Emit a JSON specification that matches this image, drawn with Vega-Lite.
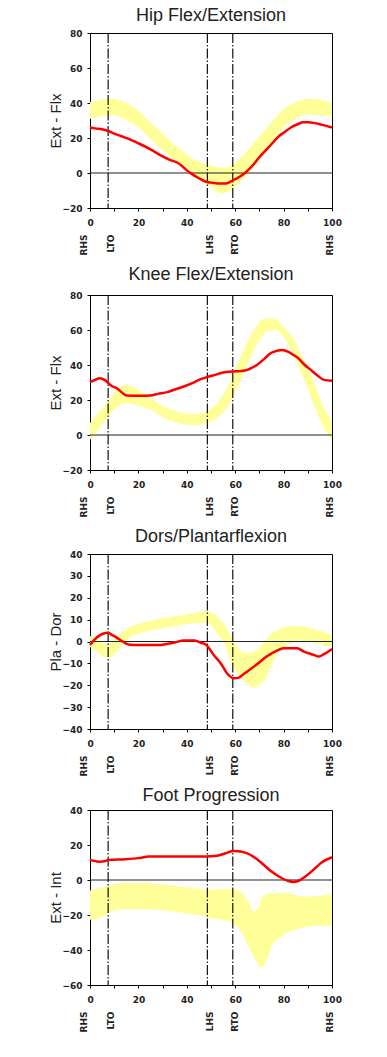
{
  "$schema": "https://vega.github.io/schema/vega-lite/v6.json",
  "background": "white",
  "padding": {"left": 48, "top": 6, "right": 5, "bottom": 5},
  "datasets": {
    "events": [{"pct": 7.5, "event": "LTO"}, {"pct": 48.5, "event": "LHS"}, {"pct": 59, "event": "RTO"}],
    "zero": [{"angle": 0}],
    "hipBand": [
      {"pct": 0, "lo": 31, "hi": 40.5}, {"pct": 5, "lo": 32.5, "hi": 42}, {"pct": 10, "lo": 33, "hi": 42.5},
      {"pct": 15, "lo": 30, "hi": 40}, {"pct": 20, "lo": 26, "hi": 35.5}, {"pct": 25, "lo": 19.5, "hi": 29},
      {"pct": 30, "lo": 13, "hi": 22.5}, {"pct": 35, "lo": 7, "hi": 16}, {"pct": 40, "lo": 1.5, "hi": 10.5},
      {"pct": 45, "lo": -3.5, "hi": 6.5}, {"pct": 50, "lo": -8, "hi": 4.5}, {"pct": 54, "lo": -11.5, "hi": 3},
      {"pct": 58, "lo": -10, "hi": 4}, {"pct": 62, "lo": -5, "hi": 8.5}, {"pct": 66, "lo": 1, "hi": 14.5},
      {"pct": 70, "lo": 8, "hi": 21}, {"pct": 75, "lo": 17.5, "hi": 29}, {"pct": 80, "lo": 26, "hi": 36.5},
      {"pct": 85, "lo": 31, "hi": 40.5}, {"pct": 90, "lo": 33.5, "hi": 42.5}, {"pct": 95, "lo": 33, "hi": 42},
      {"pct": 100, "lo": 32, "hi": 40}
    ],
    "hipLine": [
      {"pct": 0, "angle": 26}, {"pct": 2, "angle": 25.5}, {"pct": 5, "angle": 25}, {"pct": 7.5, "angle": 24},
      {"pct": 10, "angle": 22.5}, {"pct": 13, "angle": 21}, {"pct": 16, "angle": 19.5}, {"pct": 20, "angle": 17},
      {"pct": 25, "angle": 13.5}, {"pct": 30, "angle": 9.5}, {"pct": 33, "angle": 7.5}, {"pct": 36, "angle": 6},
      {"pct": 38, "angle": 4}, {"pct": 40, "angle": 1.5}, {"pct": 42, "angle": -0.5}, {"pct": 45, "angle": -3},
      {"pct": 48, "angle": -5}, {"pct": 50, "angle": -5.5}, {"pct": 53, "angle": -6}, {"pct": 56, "angle": -6},
      {"pct": 58, "angle": -5}, {"pct": 60, "angle": -3.5}, {"pct": 62, "angle": -2}, {"pct": 64, "angle": 0},
      {"pct": 67, "angle": 4}, {"pct": 70, "angle": 9}, {"pct": 73, "angle": 13.5}, {"pct": 76, "angle": 18},
      {"pct": 78, "angle": 21}, {"pct": 80, "angle": 23}, {"pct": 83, "angle": 26}, {"pct": 86, "angle": 28},
      {"pct": 88, "angle": 29}, {"pct": 90, "angle": 29}, {"pct": 93, "angle": 28.5}, {"pct": 96, "angle": 27.5},
      {"pct": 100, "angle": 26}
    ],
    "kneeBand": [
      {"pct": 0, "lo": -2.7, "hi": 6.8}, {"pct": 4, "lo": 4, "hi": 13.5}, {"pct": 7.6, "lo": 10.6, "hi": 19.2},
      {"pct": 11, "lo": 15.7, "hi": 25.8}, {"pct": 15, "lo": 18.2, "hi": 28.7}, {"pct": 19, "lo": 17.3, "hi": 26.8},
      {"pct": 25, "lo": 14.4, "hi": 21}, {"pct": 32, "lo": 8.7, "hi": 15.4}, {"pct": 38.7, "lo": 6.2, "hi": 12.5},
      {"pct": 44, "lo": 5.5, "hi": 11.9}, {"pct": 48, "lo": 6.8, "hi": 13.5}, {"pct": 52.5, "lo": 9.7, "hi": 18.2},
      {"pct": 56.6, "lo": 15.4, "hi": 26.8}, {"pct": 60.8, "lo": 26.8, "hi": 40}, {"pct": 65, "lo": 40, "hi": 53.4},
      {"pct": 69, "lo": 51.5, "hi": 62.9}, {"pct": 73.2, "lo": 59.1, "hi": 66.7}, {"pct": 76.7, "lo": 60, "hi": 66.3},
      {"pct": 80, "lo": 56.2, "hi": 61.9}, {"pct": 84, "lo": 45.8, "hi": 55.3}, {"pct": 88, "lo": 33.4, "hi": 43.9},
      {"pct": 92.5, "lo": 17.3, "hi": 30.6}, {"pct": 96.7, "lo": 4, "hi": 15.4}, {"pct": 100, "lo": -2.7, "hi": 7.8}
    ],
    "kneeLine": [
      {"pct": 0, "angle": 30.2}, {"pct": 2, "angle": 31.5}, {"pct": 4, "angle": 32.5}, {"pct": 6, "angle": 31.5},
      {"pct": 7.6, "angle": 29.6}, {"pct": 9, "angle": 28}, {"pct": 11, "angle": 26.8}, {"pct": 13, "angle": 24.5},
      {"pct": 15, "angle": 22.6}, {"pct": 20, "angle": 22.5}, {"pct": 25, "angle": 22.6}, {"pct": 28, "angle": 23.5},
      {"pct": 32, "angle": 24.5}, {"pct": 35, "angle": 26}, {"pct": 38.7, "angle": 27.7}, {"pct": 42, "angle": 29.5},
      {"pct": 45, "angle": 31.5}, {"pct": 48, "angle": 32.9}, {"pct": 52, "angle": 34.5}, {"pct": 55, "angle": 35.7},
      {"pct": 59.4, "angle": 36.3}, {"pct": 62, "angle": 36.5}, {"pct": 65, "angle": 37.2}, {"pct": 67, "angle": 38.5},
      {"pct": 69, "angle": 40}, {"pct": 72, "angle": 43.5}, {"pct": 74.6, "angle": 46.7}, {"pct": 77, "angle": 48},
      {"pct": 79.4, "angle": 48.6}, {"pct": 82, "angle": 47.5}, {"pct": 84, "angle": 45.8}, {"pct": 86, "angle": 44},
      {"pct": 88, "angle": 41}, {"pct": 91, "angle": 37.5}, {"pct": 94, "angle": 34}, {"pct": 96.7, "angle": 31.5},
      {"pct": 100, "angle": 31}
    ],
    "ankleBand": [
      {"pct": 0, "lo": -2.5, "hi": 2.5}, {"pct": 3, "lo": -5, "hi": 1}, {"pct": 6, "lo": -7, "hi": -1},
      {"pct": 8, "lo": -7.5, "hi": -1}, {"pct": 10, "lo": -6, "hi": 1}, {"pct": 13, "lo": -2, "hi": 4},
      {"pct": 16, "lo": 1.5, "hi": 6.5}, {"pct": 20, "lo": 3.5, "hi": 8}, {"pct": 25, "lo": 5, "hi": 9.5},
      {"pct": 30, "lo": 6, "hi": 10.5}, {"pct": 35, "lo": 7, "hi": 11.5}, {"pct": 40, "lo": 8, "hi": 12.5},
      {"pct": 45, "lo": 8.5, "hi": 13.5}, {"pct": 48, "lo": 8.5, "hi": 14}, {"pct": 50, "lo": 7.5, "hi": 13.5},
      {"pct": 53, "lo": 3, "hi": 11}, {"pct": 56, "lo": -2, "hi": 7}, {"pct": 58, "lo": -9, "hi": 3},
      {"pct": 60, "lo": -13, "hi": -1}, {"pct": 62, "lo": -16, "hi": -4}, {"pct": 65, "lo": -19.5, "hi": -5.5},
      {"pct": 67, "lo": -21, "hi": -5}, {"pct": 69, "lo": -20.5, "hi": -3.5}, {"pct": 71, "lo": -19, "hi": -1.5},
      {"pct": 73, "lo": -16, "hi": 1}, {"pct": 75, "lo": -11, "hi": 3.5}, {"pct": 77, "lo": -6, "hi": 5},
      {"pct": 80, "lo": -2.5, "hi": 6.5}, {"pct": 83, "lo": -0.5, "hi": 7}, {"pct": 86, "lo": 0.5, "hi": 7},
      {"pct": 90, "lo": 0, "hi": 6.5}, {"pct": 93, "lo": -0.5, "hi": 5.5}, {"pct": 96, "lo": -1.5, "hi": 4.5},
      {"pct": 100, "lo": -2.5, "hi": 3}
    ],
    "ankleLine": [
      {"pct": 0, "angle": -1.6}, {"pct": 2, "angle": 1}, {"pct": 4, "angle": 2.8}, {"pct": 6, "angle": 3.8},
      {"pct": 7.6, "angle": 4}, {"pct": 9, "angle": 3}, {"pct": 11, "angle": 1.8}, {"pct": 13, "angle": 0.3},
      {"pct": 14.5, "angle": -0.7}, {"pct": 16.6, "angle": -1.5}, {"pct": 20, "angle": -1.6}, {"pct": 25, "angle": -1.6},
      {"pct": 28, "angle": -1.6}, {"pct": 31, "angle": -1.3}, {"pct": 35, "angle": -0.5}, {"pct": 38.7, "angle": 0.5},
      {"pct": 43, "angle": 0.5}, {"pct": 45.6, "angle": -0.5}, {"pct": 47.7, "angle": -1.3}, {"pct": 49.5, "angle": -3.5},
      {"pct": 51, "angle": -6}, {"pct": 54, "angle": -9.9}, {"pct": 56.6, "angle": -14.5}, {"pct": 59.4, "angle": -16.8},
      {"pct": 61.5, "angle": -16.5}, {"pct": 63, "angle": -15.3}, {"pct": 65, "angle": -13.7}, {"pct": 69, "angle": -10.4},
      {"pct": 73, "angle": -6.9}, {"pct": 77, "angle": -4.3}, {"pct": 80, "angle": -3.1}, {"pct": 85.6, "angle": -3.1},
      {"pct": 88.4, "angle": -4.6}, {"pct": 92.5, "angle": -6.1}, {"pct": 94.6, "angle": -6.9}, {"pct": 96.7, "angle": -5.8},
      {"pct": 100, "angle": -3.4}
    ],
    "footBand": [
      {"pct": 0, "lo": -22.7, "hi": -6}, {"pct": 3.7, "lo": -21.8, "hi": -4.7}, {"pct": 7.8, "lo": -18.9, "hi": -3.3},
      {"pct": 12, "lo": -16.7, "hi": -1.8}, {"pct": 23, "lo": -16.7, "hi": -1.8}, {"pct": 34, "lo": -18, "hi": -3.3},
      {"pct": 43.5, "lo": -19.9, "hi": -4.7}, {"pct": 50.5, "lo": -21.8, "hi": -5.6}, {"pct": 55, "lo": -23, "hi": -5.2},
      {"pct": 58.6, "lo": -24.6, "hi": -5.2}, {"pct": 62.8, "lo": -30.3, "hi": -7.5}, {"pct": 65.5, "lo": -38, "hi": -12.3},
      {"pct": 67.6, "lo": -43.5, "hi": -18}, {"pct": 68.3, "lo": -45.6, "hi": -17.5}, {"pct": 69.6, "lo": -48.5, "hi": -16.1},
      {"pct": 70.3, "lo": -49.7, "hi": -13}, {"pct": 71, "lo": -50, "hi": -10.4}, {"pct": 72.4, "lo": -47.5, "hi": -8.5},
      {"pct": 73.6, "lo": -44, "hi": -7.5}, {"pct": 75, "lo": -38, "hi": -7.5}, {"pct": 79.3, "lo": -32.2, "hi": -7.5},
      {"pct": 80.6, "lo": -31, "hi": -7.5}, {"pct": 84.8, "lo": -28.4, "hi": -8.5}, {"pct": 86, "lo": -28, "hi": -9.4},
      {"pct": 90, "lo": -26.5, "hi": -9.4}, {"pct": 91.6, "lo": -26.4, "hi": -9.4}, {"pct": 100, "lo": -26.2, "hi": -7.9}
    ],
    "footLine": [
      {"pct": 0, "angle": 11.5}, {"pct": 3.7, "angle": 10.5}, {"pct": 6.5, "angle": 10.9}, {"pct": 7.8, "angle": 11.5},
      {"pct": 14.7, "angle": 11.9}, {"pct": 20, "angle": 12.5}, {"pct": 24.3, "angle": 13.4}, {"pct": 32.6, "angle": 13.4},
      {"pct": 40, "angle": 13.4}, {"pct": 47.7, "angle": 13.4}, {"pct": 52.5, "angle": 13.8}, {"pct": 56, "angle": 15.3},
      {"pct": 59.3, "angle": 16.6}, {"pct": 62.8, "angle": 16.2}, {"pct": 65, "angle": 15.2}, {"pct": 67, "angle": 13.8},
      {"pct": 71, "angle": 9.6}, {"pct": 75, "angle": 4.8}, {"pct": 79.3, "angle": 1}, {"pct": 82, "angle": -0.6},
      {"pct": 84, "angle": -1.1}, {"pct": 86, "angle": -0.6}, {"pct": 89, "angle": 2}, {"pct": 93, "angle": 6.7},
      {"pct": 95.7, "angle": 10}, {"pct": 100, "angle": 13}
    ]
  },
  "vconcat": [
    {
      "width": 242, "height": 175,
      "title": {"text": "Hip Flex/Extension", "offset": 4},
      "layer": [
        {"data": {"name": "hipBand"}, "mark": {"type": "area", "color": "#ffff99", "opacity": 1, "interpolate": "monotone"},
         "encoding": {
           "x": {"field": "pct", "type": "quantitative", "scale": {"domain": [0, 100], "nice": false},
                 "axis": {"values": [0, 10, 20, 30, 40, 50, 60, 70, 80, 90, 100], "labelExpr": "datum.value % 20 == 0 ? datum.label : ''", "title": null, "labelFlush": false, "labelOverlap": false, "labelPadding": 7}},
           "y": {"field": "hi", "type": "quantitative", "scale": {"domain": [-20, 80], "nice": false},
                 "axis": {"values": [-20, 0, 20, 40, 60, 80], "title": "Ext - Flx", "labelFlush": false, "labelOverlap": false, "labelPadding": 5, "titlePadding": -2}},
           "y2": {"field": "lo"}}},
        {"data": {"name": "zero"}, "mark": {"type": "rule", "color": "#222", "strokeWidth": 1.2},
         "encoding": {"y": {"field": "angle", "type": "quantitative", "axis": null}}},
        {"data": {"name": "events"}, "mark": {"type": "rule", "color": "#111", "strokeWidth": 1.2, "strokeDash": [10, 2, 1.5, 2]},
         "encoding": {"x": {"field": "pct", "type": "quantitative",
           "axis": {"orient": "bottom", "values": [0, 7.5, 48.5, 59, 100], "labelExpr": "datum.value == 0 || datum.value == 100 ? 'RHS' : datum.value < 20 ? 'LTO' : datum.value < 50 ? 'LHS' : 'RTO'", "labelAngle": 270, "ticks": false, "domain": false, "labelPadding": 26, "title": null, "labelFlush": false, "labelOverlap": false, "labelBound": false,
                    "labelOffset": {"condition": [{"test": "datum.value == 0", "value": -7}, {"test": "datum.value == 100", "value": -3}], "value": 2}}}}},
        {"data": {"name": "hipLine"}, "mark": {"type": "line", "color": "#ff0000", "strokeWidth": 2.5, "interpolate": "monotone"},
         "encoding": {"x": {"field": "pct", "type": "quantitative", "axis": null}, "y": {"field": "angle", "type": "quantitative", "axis": null}}}
      ],
      "resolve": {"axis": {"x": "independent", "y": "independent"}}
    },
    {
      "width": 242, "height": 175,
      "title": {"text": "Knee Flex/Extension", "offset": 7.5},
      "layer": [
        {"data": {"name": "kneeBand"}, "mark": {"type": "area", "color": "#ffff99", "opacity": 1, "interpolate": "monotone"},
         "encoding": {
           "x": {"field": "pct", "type": "quantitative", "scale": {"domain": [0, 100], "nice": false},
                 "axis": {"values": [0, 10, 20, 30, 40, 50, 60, 70, 80, 90, 100], "labelExpr": "datum.value % 20 == 0 ? datum.label : ''", "title": null, "labelFlush": false, "labelOverlap": false, "labelPadding": 7}},
           "y": {"field": "hi", "type": "quantitative", "scale": {"domain": [-20, 80], "nice": false},
                 "axis": {"values": [-20, 0, 20, 40, 60, 80], "title": "Ext - Flx", "labelFlush": false, "labelOverlap": false, "labelPadding": 5, "titlePadding": -2}},
           "y2": {"field": "lo"}}},
        {"data": {"name": "zero"}, "mark": {"type": "rule", "color": "#222", "strokeWidth": 1.2},
         "encoding": {"y": {"field": "angle", "type": "quantitative", "axis": null}}},
        {"data": {"name": "events"}, "mark": {"type": "rule", "color": "#111", "strokeWidth": 1.2, "strokeDash": [10, 2, 1.5, 2]},
         "encoding": {"x": {"field": "pct", "type": "quantitative",
           "axis": {"orient": "bottom", "values": [0, 7.5, 48.5, 59, 100], "labelExpr": "datum.value == 0 || datum.value == 100 ? 'RHS' : datum.value < 20 ? 'LTO' : datum.value < 50 ? 'LHS' : 'RTO'", "labelAngle": 270, "ticks": false, "domain": false, "labelPadding": 26, "title": null, "labelFlush": false, "labelOverlap": false, "labelBound": false,
                    "labelOffset": {"condition": [{"test": "datum.value == 0", "value": -7}, {"test": "datum.value == 100", "value": -3}], "value": 2}}}}},
        {"data": {"name": "kneeLine"}, "mark": {"type": "line", "color": "#ff0000", "strokeWidth": 2.5, "interpolate": "monotone"},
         "encoding": {"x": {"field": "pct", "type": "quantitative", "axis": null}, "y": {"field": "angle", "type": "quantitative", "axis": null}}}
      ],
      "resolve": {"axis": {"x": "independent", "y": "independent"}}
    },
    {
      "width": 242, "height": 175,
      "title": {"text": "Dors/Plantarflexion", "offset": 4},
      "layer": [
        {"data": {"name": "ankleBand"}, "mark": {"type": "area", "color": "#ffff99", "opacity": 1, "interpolate": "monotone"},
         "encoding": {
           "x": {"field": "pct", "type": "quantitative", "scale": {"domain": [0, 100], "nice": false},
                 "axis": {"values": [0, 10, 20, 30, 40, 50, 60, 70, 80, 90, 100], "labelExpr": "datum.value % 20 == 0 ? datum.label : ''", "title": null, "labelFlush": false, "labelOverlap": false, "labelPadding": 7}},
           "y": {"field": "hi", "type": "quantitative", "scale": {"domain": [-40, 40], "nice": false},
                 "axis": {"values": [-40, -30, -20, -10, 0, 10, 20, 30, 40], "title": "Pla - Dor", "labelFlush": false, "labelOverlap": false, "labelPadding": 5, "titlePadding": -2}},
           "y2": {"field": "lo"}}},
        {"data": {"name": "zero"}, "mark": {"type": "rule", "color": "#222", "strokeWidth": 1.2},
         "encoding": {"y": {"field": "angle", "type": "quantitative", "axis": null}}},
        {"data": {"name": "events"}, "mark": {"type": "rule", "color": "#111", "strokeWidth": 1.2, "strokeDash": [10, 2, 1.5, 2]},
         "encoding": {"x": {"field": "pct", "type": "quantitative",
           "axis": {"orient": "bottom", "values": [0, 7.5, 48.5, 59, 100], "labelExpr": "datum.value == 0 || datum.value == 100 ? 'RHS' : datum.value < 20 ? 'LTO' : datum.value < 50 ? 'LHS' : 'RTO'", "labelAngle": 270, "ticks": false, "domain": false, "labelPadding": 26, "title": null, "labelFlush": false, "labelOverlap": false, "labelBound": false,
                    "labelOffset": {"condition": [{"test": "datum.value == 0", "value": -7}, {"test": "datum.value == 100", "value": -3}], "value": 2}}}}},
        {"data": {"name": "ankleLine"}, "mark": {"type": "line", "color": "#ff0000", "strokeWidth": 2.5, "interpolate": "monotone"},
         "encoding": {"x": {"field": "pct", "type": "quantitative", "axis": null}, "y": {"field": "angle", "type": "quantitative", "axis": null}}}
      ],
      "resolve": {"axis": {"x": "independent", "y": "independent"}}
    },
    {
      "width": 242, "height": 175,
      "title": {"text": "Foot Progression", "offset": 1.5},
      "layer": [
        {"data": {"name": "footBand"}, "mark": {"type": "area", "color": "#ffff99", "opacity": 1, "interpolate": "monotone"},
         "encoding": {
           "x": {"field": "pct", "type": "quantitative", "scale": {"domain": [0, 100], "nice": false},
                 "axis": {"values": [0, 10, 20, 30, 40, 50, 60, 70, 80, 90, 100], "labelExpr": "datum.value % 20 == 0 ? datum.label : ''", "title": null, "labelFlush": false, "labelOverlap": false, "labelPadding": 7}},
           "y": {"field": "hi", "type": "quantitative", "scale": {"domain": [-60, 40], "nice": false},
                 "axis": {"values": [-60, -40, -20, 0, 20, 40], "title": "Ext - Int", "labelFlush": false, "labelOverlap": false, "labelPadding": 5, "titlePadding": -2}},
           "y2": {"field": "lo"}}},
        {"data": {"name": "zero"}, "mark": {"type": "rule", "color": "#222", "strokeWidth": 1.2},
         "encoding": {"y": {"field": "angle", "type": "quantitative", "axis": null}}},
        {"data": {"name": "events"}, "mark": {"type": "rule", "color": "#111", "strokeWidth": 1.2, "strokeDash": [10, 2, 1.5, 2]},
         "encoding": {"x": {"field": "pct", "type": "quantitative",
           "axis": {"orient": "bottom", "values": [0, 7.5, 48.5, 59, 100], "labelExpr": "datum.value == 0 || datum.value == 100 ? 'RHS' : datum.value < 20 ? 'LTO' : datum.value < 50 ? 'LHS' : 'RTO'", "labelAngle": 270, "ticks": false, "domain": false, "labelPadding": 26, "title": null, "labelFlush": false, "labelOverlap": false, "labelBound": false,
                    "labelOffset": {"condition": [{"test": "datum.value == 0", "value": -7}, {"test": "datum.value == 100", "value": -3}], "value": 2}}}}},
        {"data": {"name": "footLine"}, "mark": {"type": "line", "color": "#ff0000", "strokeWidth": 2.5, "interpolate": "monotone"},
         "encoding": {"x": {"field": "pct", "type": "quantitative", "axis": null}, "y": {"field": "angle", "type": "quantitative", "axis": null}}}
      ],
      "resolve": {"axis": {"x": "independent", "y": "independent"}}
    }
  ],
  "spacing": 9,
  "config": {
    "view": {"stroke": "#000", "strokeWidth": 1},
    "axis": {"grid": false, "domainColor": "#000", "tickColor": "#000", "tickSize": 3,
             "labelFont": "DejaVu Sans", "labelFontWeight": "bold", "labelFontSize": 9, "labelColor": "#222",
             "titleFont": "Liberation Sans", "titleFontWeight": "normal", "titleFontSize": 15, "titleColor": "#222"},
    "title": {"font": "Liberation Sans", "fontSize": 18, "fontWeight": "normal", "color": "#222", "offset": 4, "baseline": "alphabetic"}
  }
}
